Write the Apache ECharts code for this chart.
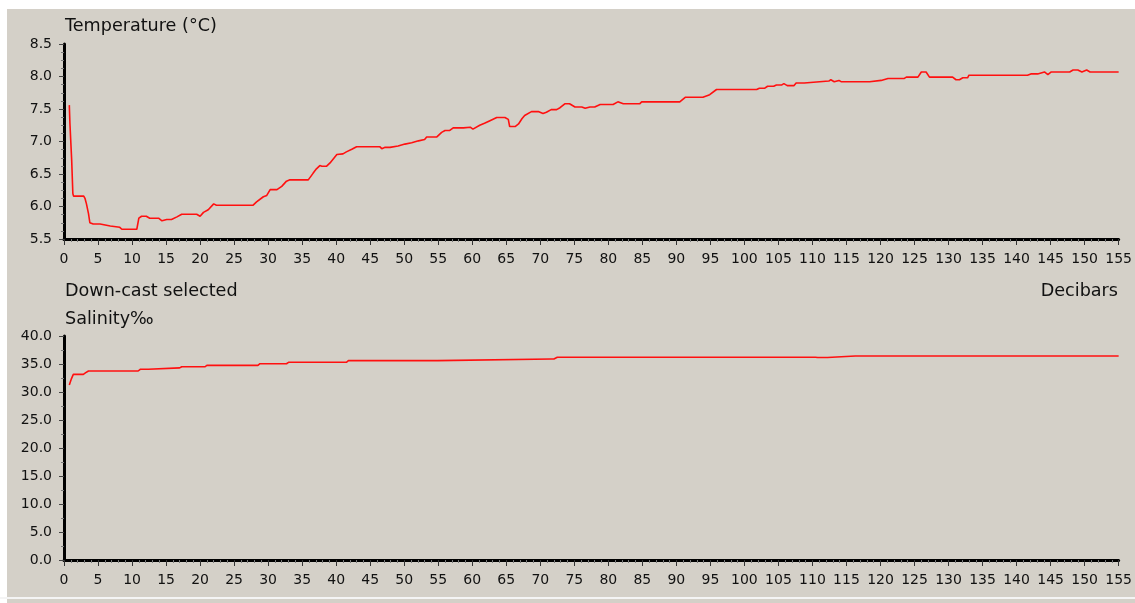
<!DOCTYPE html>
<html lang="en">
<head>
<meta charset="UTF-8">
<title>CTD profile</title>
<script src="https://cdn.jsdelivr.net/npm/echarts@6/dist/echarts.min.js"></script>
<style>
  html, body { margin: 0; padding: 0; background: #fff; }
  #main { width: 1135px; height: 603px; }
</style>
</head>
<body>
<div id="main"></div>
<script>
// temperature profile (depth in decibars, temperature in degC)
var tempDepth = [0.78, 0.87, 1.0, 1.13, 1.27, 1.3, 1.4, 2.9, 3.1, 3.3, 3.6, 3.8, 4.3, 5.3, 5.5, 6.8, 7.0, 8.2, 8.5, 10.7,
  10.8, 11.0, 11.4, 12.1, 12.6, 13.9, 14.4, 15.1, 15.8, 16.6, 17.3, 19.5, 20.0, 20.5, 21.2, 22.0, 22.4, 27.8, 28.3, 29.3,
  29.8, 30.3, 31.3, 32.0, 32.7, 33.2, 35.9, 36.6, 37.1, 37.6, 37.9, 38.6, 39.1, 40.1, 41.0, 41.5, 42.3, 43.0, 46.4, 46.7,
  47.2, 47.9, 48.1, 49.1, 49.3, 50.1, 50.3, 51.1, 51.3, 52.1, 52.3, 53.0, 53.3, 54.8, 55.5, 56.0, 56.7, 57.2, 58.7, 58.9,
  59.7, 60.1, 61.1, 61.8, 62.6, 63.6, 64.8, 65.3, 65.5, 66.3, 66.8, 67.3, 67.7, 68.7, 69.7, 70.4, 70.9, 71.6, 72.4, 72.9,
  73.6, 74.3, 75.1, 76.1, 76.6, 77.3, 78.0, 78.8, 80.7, 81.4, 82.2, 84.6, 84.9, 90.5, 91.3, 93.9, 94.9, 95.9, 101.8, 102.2,
  103.0, 103.4, 104.3, 104.7, 105.5, 105.8, 106.3, 107.3, 107.6, 108.8, 109.0, 112.4, 112.7, 113.2, 113.9, 114.2, 118.4, 118.6,
  120.1, 120.3, 121.1, 123.5, 123.8, 125.5, 126.0, 126.7, 127.2, 130.6, 131.1, 131.6, 132.1, 132.8, 133.0, 141.6, 142.1, 143.1,
  143.3, 144.1, 144.6, 145.1, 147.8, 148.3, 149.0, 149.6, 150.3, 150.8, 152.5, 152.7, 153.2, 155.0];
var tempValue = [7.56, 7.28, 7.27, 6.71, 6.69, 6.20, 6.16, 6.16, 6.12, 6.04, 5.89, 5.75, 5.73, 5.73, 5.70, 5.70, 5.68, 5.68, 5.65, 5.65,
  5.68, 5.82, 5.85, 5.85, 5.82, 5.82, 5.78, 5.80, 5.80, 5.84, 5.88, 5.88, 5.85, 5.91, 5.95, 6.04, 6.02, 6.02, 6.07, 6.15,
  6.17, 6.26, 6.26, 6.31, 6.39, 6.41, 6.41, 6.51, 6.58, 6.63, 6.62, 6.62, 6.67, 6.80, 6.81, 6.84, 6.88, 6.92, 6.92, 6.89,
  6.91, 6.91, 6.93, 6.93, 6.96, 6.96, 6.98, 6.98, 7.01, 7.01, 7.03, 7.03, 7.07, 7.07, 7.14, 7.17, 7.17, 7.21, 7.21, 7.22,
  7.22, 7.19, 7.25, 7.28, 7.32, 7.37, 7.37, 7.34, 7.23, 7.23, 7.27, 7.35, 7.40, 7.46, 7.46, 7.43, 7.45, 7.49, 7.49, 7.52,
  7.58, 7.58, 7.53, 7.53, 7.51, 7.53, 7.53, 7.57, 7.57, 7.61, 7.58, 7.58, 7.61, 7.61, 7.68, 7.68, 7.72, 7.80, 7.80, 7.82,
  7.82, 7.85, 7.85, 7.87, 7.87, 7.89, 7.86, 7.86, 7.90, 7.90, 7.93, 7.93, 7.95, 7.92, 7.94, 7.92, 7.92, 7.94,
  7.94, 7.93, 7.97, 7.97, 7.99, 7.99, 8.07, 8.07, 7.99, 7.99, 7.95, 7.95, 7.98, 7.98, 8.02, 8.02, 8.04, 8.04,
  8.07, 8.07, 8.03, 8.07, 8.07, 8.10, 8.10, 8.07, 8.10, 8.07, 8.07, 8.10, 8.07, 8.07];

// salinity profile (per mille)
var salDepth = [0.78, 1.1, 1.37, 2.84, 3.2, 3.6, 10.9, 11.2, 12.4, 12.6, 17.0, 17.3, 20.7, 21.0, 28.5, 28.8, 32.7, 33.0, 41.5, 41.8,
  54.9, 55.0, 71.6, 71.7, 72.0, 72.5, 74.2, 74.3, 74.6, 110.4, 110.6, 110.8, 112.2, 112.4, 116.3, 116.5, 116.7, 155.0];
var salValue = [31.25, 32.4, 33.15, 33.15, 33.45, 33.75, 33.75, 34.05, 34.05, 34.3, 34.3, 34.5, 34.5, 34.75, 34.75, 35.05, 35.05, 35.3, 35.3, 35.6,
  35.6, 35.9, 35.9, 36.1, 35.9, 36.2, 36.2, 36.05, 36.2, 36.2, 36.4, 36.15, 36.15, 36.43, 36.43, 36.3, 36.43, 36.43];

var depthTicks = { min: 0, max: 155, interval: 5 };
var tempTicks = { min: 5.5, max: 8.5, interval: 0.5 };
var salTicks = { min: 0, max: 40, interval: 5 };

function pairs(xs, ys) {
  var out = [];
  for (var i = 0; i < xs.length; i++) out.push([xs[i], ys[i]]);
  return out;
}

var FONT = 'DejaVu Sans';
var TITLE_FONT = '17.6px "DejaVu Sans"';

function xAxisFor(idx) {
  return {
    type: 'value', gridIndex: idx,
    min: depthTicks.min, max: depthTicks.max, interval: depthTicks.interval,
    axisLine: { show: true, onZero: false, lineStyle: { color: '#000', width: 3 } },
    axisTick: { show: true, length: 6, lineStyle: { color: '#333', width: 1 } },
    minorTick: { show: true, splitNumber: 5, length: 3, lineStyle: { color: '#7a7a7a', width: 1 } },
    splitLine: { show: false },
    axisLabel: { color: '#111', fontFamily: FONT, fontSize: 14, margin: 13 }
  };
}

function yAxisFor(idx, t, minorSplit) {
  return {
    type: 'value', gridIndex: idx,
    min: t.min, max: t.max, interval: t.interval,
    axisLine: { show: true, onZero: false, lineStyle: { color: '#000', width: 3 } },
    axisTick: { show: true, length: 5, lineStyle: { color: '#444', width: 1 } },
    minorTick: { show: true, splitNumber: minorSplit, length: 3, lineStyle: { color: '#7a7a7a', width: 1 } },
    splitLine: { show: false },
    axisLabel: {
      color: '#111', fontFamily: FONT, fontSize: 14, margin: 12,
      formatter: function (v) { return v.toFixed(1); }
    }
  };
}

var myChart = echarts.init(document.getElementById('main'));

var option = {
  backgroundColor: '#d4d0c8',
  animation: false,
  grid: [
    { left: 64, top: 44, width: 1055, height: 195 },
    { left: 64, top: 336, width: 1055, height: 224 }
  ],
  xAxis: [xAxisFor(0), xAxisFor(1)],
  yAxis: [yAxisFor(0, tempTicks, 4), yAxisFor(1, salTicks, 2)],
  series: [{
    name: 'Temperature',
    type: 'line',
    xAxisIndex: 0, yAxisIndex: 0,
    showSymbol: false,
    lineStyle: { color: '#ff1010', width: 1.6 },
    data: pairs(tempDepth, tempValue)
  }, {
    name: 'Salinity',
    type: 'line',
    xAxisIndex: 1, yAxisIndex: 1,
    showSymbol: false,
    lineStyle: { color: '#ff1010', width: 1.6 },
    data: pairs(salDepth, salValue)
  }],
  graphic: [
    { type: 'rect', shape: { x: 0, y: 0, width: 1135, height: 9 }, style: { fill: '#ffffff' }, silent: true },
    { type: 'rect', shape: { x: 0, y: 0, width: 7, height: 603 }, style: { fill: '#ffffff' }, silent: true },
    { type: 'rect', shape: { x: 0, y: 597, width: 1135, height: 2 }, style: { fill: '#f4f4f4' }, silent: true },
    { type: 'text', left: 65, top: 17, style: { text: 'Temperature (°C)', fill: '#111', font: TITLE_FONT } },
    { type: 'text', left: 65, top: 282, style: { text: 'Down-cast selected', fill: '#111', font: TITLE_FONT } },
    { type: 'text', left: 65, top: 310, style: { text: 'Salinity‰', fill: '#111', font: TITLE_FONT } },
    { type: 'text', right: 17, top: 282, style: { text: 'Decibars', fill: '#111', font: TITLE_FONT } }
  ]
};

myChart.setOption(option);
</script>
</body>
</html>
